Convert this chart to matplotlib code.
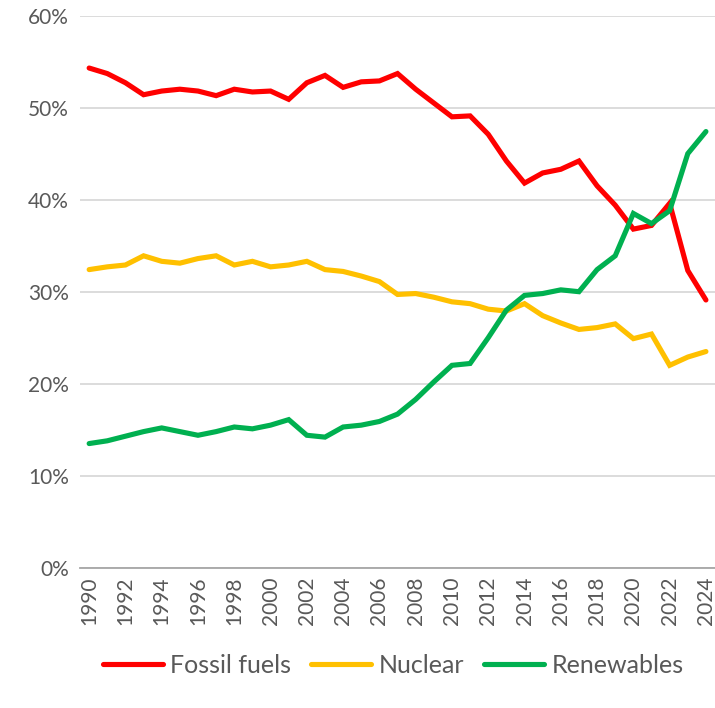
import numpy as np
import matplotlib
matplotlib.use("Agg")
import matplotlib.pyplot as plt
from matplotlib.ticker import FuncFormatter, MultipleLocator

# Share of electricity generation, %
years = list(range(1990, 2025))

fossil = [54.3, 53.7, 52.7, 51.4, 51.8, 52.0, 51.8, 51.3, 52.0, 51.7,
          51.8, 50.9, 52.7, 53.5, 52.2, 52.8, 52.9, 53.7, 52.0, 50.5,
          49.0, 49.1, 47.1, 44.2, 41.8, 42.9, 43.3, 44.2, 41.5, 39.4,
          36.8, 37.2, 39.6, 32.3, 29.1]

nuclear = [32.4, 32.7, 32.9, 33.9, 33.3, 33.1, 33.6, 33.9, 32.9, 33.3,
           32.7, 32.9, 33.3, 32.4, 32.2, 31.7, 31.1, 29.7, 29.8, 29.4,
           28.9, 28.7, 28.1, 27.9, 28.7, 27.4, 26.6, 25.9, 26.1, 26.5,
           24.9, 25.4, 22.0, 22.9, 23.5]

renewables = [13.5, 13.8, 14.3, 14.8, 15.2, 14.8, 14.4, 14.8, 15.3, 15.1,
              15.5, 16.1, 14.4, 14.2, 15.3, 15.5, 15.9, 16.7, 18.3, 20.2,
              22.0, 22.2, 25.0, 28.0, 29.6, 29.8, 30.2, 30.0, 32.4, 33.9,
              38.5, 37.4, 38.8, 45.0, 47.4]

series = [("Fossil fuels", fossil, "#FF0000"),
          ("Nuclear", nuclear, "#FFC000"),
          ("Renewables", renewables, "#00B050")]

plt.rcParams['font.family'] = ['Lato', 'DejaVu Sans']
text_col = "#595959"

fig = plt.figure(figsize=(7.15, 7.08), dpi=100)
ax = fig.add_axes([0.112, 0.198, 0.888, 0.78])

for name, vals, col in series:
    ax.plot(years, vals, color=col, lw=3.7, label=name,
            solid_joinstyle='miter', solid_capstyle='round')

ax.set_xlim(1989.5, 2024.5)
ax.set_ylim(0, 60)
ax.yaxis.set_major_locator(MultipleLocator(10))
ax.yaxis.set_major_formatter(FuncFormatter(lambda v, p: f"{v:.0f}%"))
ax.set_xticks(years[::2])
ax.set_xticklabels([str(y) for y in years[::2]], rotation=90)

ax.grid(axis='y', color="#D9D9D9", lw=1.3)
ax.set_axisbelow(True)
for s in ['top', 'right', 'left']:
    ax.spines[s].set_visible(False)
ax.spines['bottom'].set_color("#A6A6A6")
ax.spines['bottom'].set_linewidth(1.3)

ax.tick_params(axis='both', length=0, labelsize=15, labelcolor=text_col,
               pad=6)
ax.tick_params(axis='y', pad=8)

leg = fig.legend(loc='center', bbox_to_anchor=(0.55, 0.06), ncol=3,
                 frameon=False, fontsize=18, handlelength=2.4,
                 columnspacing=0.8, handletextpad=0.3)
for t in leg.get_texts():
    t.set_color(text_col)

fig.savefig("out.png", dpi=100)
